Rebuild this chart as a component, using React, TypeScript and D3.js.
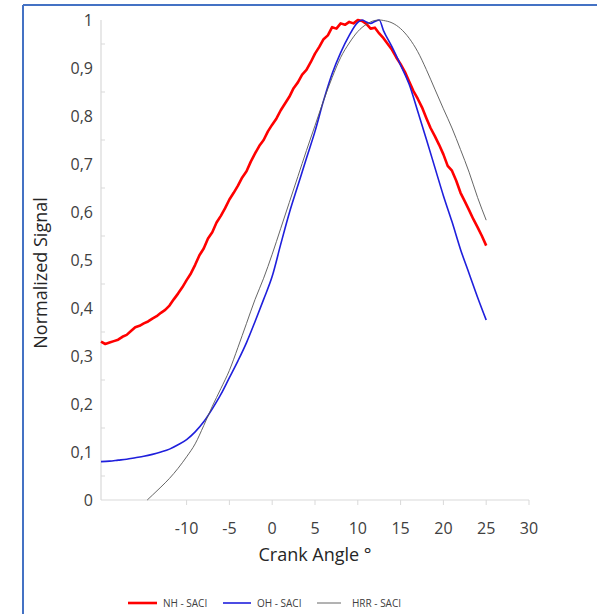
import React, { useEffect, useRef } from 'react';
import * as d3 from 'd3';

// crank angle (deg) for the NH trace, 0.5 deg steps
const nhAngles = d3.range(-20, 25.01, 0.5);
const nhValues = [
  0.330, 0.325, 0.328, 0.331, 0.334, 0.340, 0.344, 0.352, 0.360, 0.363,
  0.368, 0.372, 0.378, 0.383, 0.390, 0.396, 0.405, 0.418, 0.430, 0.443,
  0.458, 0.472, 0.490, 0.510, 0.524, 0.545, 0.558, 0.578, 0.592, 0.608,
  0.626, 0.640, 0.655, 0.672, 0.685, 0.705, 0.722, 0.738, 0.750, 0.768,
  0.782, 0.795, 0.812, 0.826, 0.840, 0.858, 0.870, 0.886, 0.896, 0.912,
  0.930, 0.944, 0.960, 0.968, 0.985, 0.982, 0.993, 0.990, 0.996, 0.993,
  1.000, 0.998, 0.992, 0.982, 0.984, 0.972, 0.962, 0.950, 0.938, 0.922,
  0.908, 0.892, 0.872, 0.852, 0.836, 0.818, 0.796, 0.775, 0.758, 0.740,
  0.720, 0.696, 0.686, 0.665, 0.640, 0.622, 0.604, 0.585, 0.568, 0.550,
  0.530,
];

const ohAngles = [
  -20, -19, -18, -17, -16, -15, -14, -13, -12, -11, -10, -9, -8, -7, -6, -5, -4, -3, -2, -1,
  0, 1, 2, 3, 4, 5, 6, 7, 8, 9, 10, 10.5, 11, 11.5, 12, 12.5, 13, 14, 15, 16, 17, 18, 19, 20,
  21, 22, 23, 24, 25,
];
const ohValues = [
  0.080, 0.081, 0.083, 0.085, 0.088, 0.091, 0.095, 0.100, 0.106, 0.115, 0.126, 0.142, 0.163,
  0.190, 0.220, 0.255, 0.290, 0.328, 0.372, 0.418, 0.466, 0.533, 0.598, 0.655, 0.712, 0.768,
  0.832, 0.888, 0.932, 0.968, 0.995, 1.000, 0.996, 0.993, 0.997, 1.000, 0.978, 0.944, 0.906,
  0.866, 0.810, 0.752, 0.693, 0.634, 0.580, 0.522, 0.472, 0.422, 0.375,
];

const hrrAngles = [
  -14.6, -14, -13, -12, -11, -10, -9, -8, -7, -6, -5, -4, -3, -2, -1, 0, 1, 2, 3, 4, 5, 6, 7,
  8, 9, 10, 11, 12, 12.6, 13, 14, 15, 16, 17, 18, 19, 20, 21, 22, 23, 24, 25,
];
const hrrValues = [
  0.000, 0.010, 0.027, 0.045, 0.066, 0.090, 0.117, 0.155, 0.195, 0.232, 0.270, 0.318, 0.368,
  0.418, 0.462, 0.512, 0.566, 0.620, 0.674, 0.728, 0.780, 0.832, 0.880, 0.922, 0.952, 0.976,
  0.991, 0.999, 1.000, 0.999, 0.994, 0.982, 0.962, 0.934, 0.897, 0.856, 0.815, 0.775, 0.730,
  0.683, 0.630, 0.583,
];

const xTicks = [-10, -5, 0, 5, 10, 15, 20, 25, 30];
const yTicks = [0, 0.1, 0.2, 0.3, 0.4, 0.5, 0.6, 0.7, 0.8, 0.9, 1];
const seriesNames = ['NH - SACI', 'OH - SACI', 'HRR - SACI'];
const seriesColors = ['#ff0000', '#1f1fdc', '#555555'];

const App = () => {
  const chartRef = useRef(null);

  useEffect(() => {
    const width = 597;
    const height = 614;
    const font = "'Open Sans', sans-serif";

    d3.select(chartRef.current).selectAll('*').remove();

    const svg = d3
      .select(chartRef.current)
      .append('svg')
      .attr('width', width)
      .attr('height', height)
      .style('position', 'absolute')
      .style('left', '0px')
      .style('top', '0px')
      .style('background', '#fff');

    // blue frame (only top and left visible in the crop)
    svg.append('line').attr('x1', 23).attr('x2', width).attr('y1', 5).attr('y2', 5)
      .attr('stroke', '#4472c4').attr('stroke-width', 2);
    svg.append('line').attr('x1', 23).attr('x2', 23).attr('y1', 5).attr('y2', height)
      .attr('stroke', '#4472c4').attr('stroke-width', 2);

    const x = d3.scaleLinear().domain([-20, 30]).range([101, 529]);
    const y = d3.scaleLinear().domain([0, 1]).range([500, 20]);

    // axes
    svg.append('line').attr('x1', x(-20)).attr('x2', x(30)).attr('y1', y(0)).attr('y2', y(0))
      .attr('stroke', '#d9d9d9').attr('stroke-width', 1.2);
    svg.append('line').attr('x1', x(-20)).attr('x2', x(-20)).attr('y1', y(0)).attr('y2', y(1))
      .attr('stroke', '#d9d9d9').attr('stroke-width', 1.2);

    svg.selectAll('.xtick').data(xTicks).enter().append('line')
      .attr('x1', (d) => x(d)).attr('x2', (d) => x(d))
      .attr('y1', y(0)).attr('y2', y(0) + 5)
      .attr('stroke', '#d9d9d9');

    svg.selectAll('.ytick').data(yTicks.slice(0, -1)).enter().append('line')
      .attr('x1', x(-20)).attr('x2', x(-20) + 4)
      .attr('y1', (d) => y(d + 0.05)).attr('y2', (d) => y(d + 0.05))
      .attr('stroke', '#d9d9d9');

    svg.selectAll('.xlabel').data(xTicks).enter().append('text')
      .attr('x', (d) => x(d)).attr('y', 534)
      .attr('text-anchor', 'middle')
      .attr('font-family', font).attr('font-size', 16).attr('fill', '#404040')
      .text((d) => d);

    svg.selectAll('.ylabel').data(yTicks).enter().append('text')
      .attr('x', 93).attr('y', (d) => y(d) + 6)
      .attr('text-anchor', 'end')
      .attr('font-family', font).attr('font-size', 16).attr('fill', '#404040')
      .text((d) => (d === 0 || d === 1 ? String(d) : d.toFixed(1).replace('.', ',')));

    svg.append('text')
      .attr('x', 315).attr('y', 561)
      .attr('text-anchor', 'middle')
      .attr('font-family', font).attr('font-size', 18).attr('fill', '#262626')
      .text('Crank Angle °');

    svg.append('text')
      .attr('transform', 'translate(47,273) rotate(-90)')
      .attr('text-anchor', 'middle')
      .attr('font-family', font).attr('font-size', 18).attr('fill', '#262626')
      .text('Normalized Signal');

    // series
    const series = [
      { xs: nhAngles, ys: nhValues, w: 2.6, curve: d3.curveLinear },
      { xs: ohAngles, ys: ohValues, w: 1.6, curve: d3.curveMonotoneX },
      { xs: hrrAngles, ys: hrrValues, w: 0.9, curve: d3.curveMonotoneX },
    ];

    series.forEach((s, i) => {
      const pts = s.xs.map((a, j) => [a, s.ys[j]]);
      const line = d3.line().x((d) => x(d[0])).y((d) => y(d[1])).curve(s.curve);
      svg.append('path')
        .attr('d', line(pts))
        .attr('fill', 'none')
        .attr('stroke', seriesColors[i])
        .attr('stroke-width', s.w)
        .attr('stroke-linejoin', 'round');
    });

    // legend
    const legendX = [128, 223, 317];
    const legendLen = [29, 28, 24];
    const legendW = [2.6, 1.6, 0.9];
    seriesNames.forEach((name, i) => {
      const g = svg.append('g');
      g.append('line')
        .attr('x1', legendX[i]).attr('x2', legendX[i] + legendLen[i])
        .attr('y1', 603).attr('y2', 603)
        .attr('stroke', seriesColors[i]).attr('stroke-width', legendW[i]);
      g.append('text')
        .attr('x', legendX[i] + legendLen[i] + (i === 2 ? 11 : 6)).attr('y', 606.5)
        .attr('font-family', font).attr('font-size', 10).attr('fill', '#404040')
        .text(name);
    });
  }, []);

  return <div ref={chartRef}></div>;
};

export default App;
